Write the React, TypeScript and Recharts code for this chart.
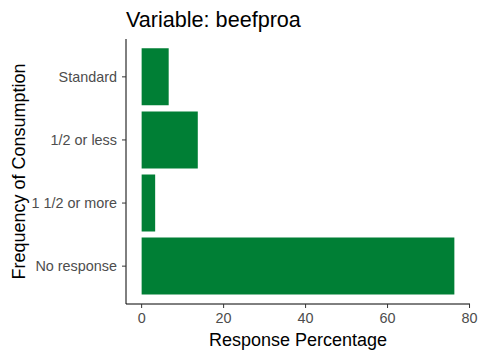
import { BarChart, Bar, XAxis, YAxis } from 'recharts';

const categories = ['Standard', '1/2 or less', '1 1/2 or more', 'No response'];
const percentages = [6.6, 13.7, 3.3, 76.3];
const xTicks = [0, 20, 40, 60, 80];

const data = categories.map((c, i) => ({ level: c, pct: percentages[i] }));

const FONT = '"Liberation Sans", Arial, sans-serif';
const GREEN = '#007f35';

export default function App() {
  return (
    <div style={{ position: 'absolute', left: 0, top: 0, width: 480, height: 360, background: '#fff', fontFamily: FONT }}>
      <BarChart
        width={480}
        height={360}
        data={data}
        layout="vertical"
        margin={{ top: 39, right: 10, left: 26, bottom: 0 }}
      >
        <XAxis
          type="number"
          domain={[-3.815, 80.115]}
          ticks={xTicks}
          allowDataOverflow
          height={56}
          tickSize={4}
          tickMargin={5}
          stroke="#000"
          tickLine={{ stroke: '#333' }}
          tick={{ fontSize: 14.4, fill: '#4d4d4d', fontFamily: FONT }}
        />
        <YAxis
          type="category"
          dataKey="level"
          width={100}
          padding={{ top: 6.3, bottom: 6.3 }}
          tickSize={4}
          tickMargin={5}
          stroke="#000"
          tickLine={{ stroke: '#333' }}
          tick={{ fontSize: 14.4, fill: '#4d4d4d', fontFamily: FONT }}
        />
        <Bar dataKey="pct" fill={GREEN} barSize={57} isAnimationActive={false} />
      </BarChart>

      {/* titles drawn on top of the chart */}
      <svg width={480} height={360} style={{ position: 'absolute', left: 0, top: 0, pointerEvents: 'none' }}>
        <text x={126} y={27} fontSize={21.6} fill="#000" fontFamily={FONT}>Variable: beefproa</text>
        <text x={298} y={346} fontSize={18} fill="#000" textAnchor="middle" fontFamily={FONT}>Response Percentage</text>
        <text x={25} y={171.5} fontSize={18} fill="#000" textAnchor="middle" fontFamily={FONT} transform="rotate(-90 25 171.5)">
          Frequency of Consumption
        </text>
      </svg>
    </div>
  );
}
